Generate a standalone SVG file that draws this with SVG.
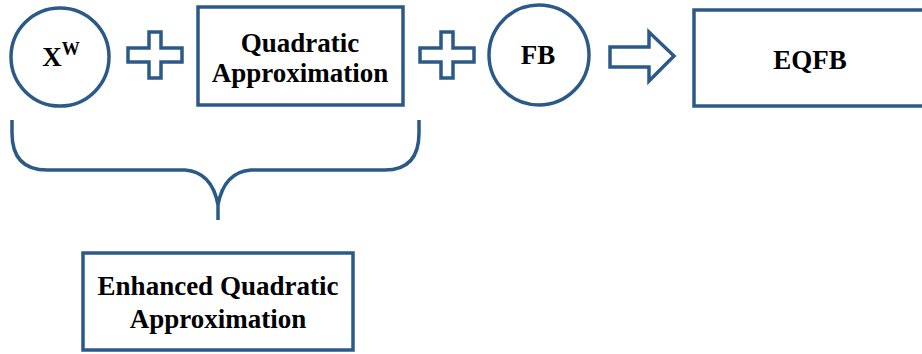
<svg xmlns="http://www.w3.org/2000/svg" width="922" height="354" viewBox="0 0 922 354">
<style>
.s{fill:#ffffff;stroke:#2C5A88;stroke-width:3.5}
.l{fill:none;stroke:#2C5A88;stroke-width:3.5;stroke-linejoin:miter}
.t{font-family:'Liberation Serif',serif;font-weight:700;font-size:27px;fill:#000;text-anchor:middle}
</style>
<rect width="922" height="354" fill="#ffffff"/>
<g id="xw"><circle class="s" cx="60" cy="57" r="49"/><text class="t" x="61" y="66" font-size="28"><tspan>X</tspan><tspan font-size="18" dy="-11">W</tspan></text></g>
<g id="plus1"><path class="s" d="M149,32 H161 V48 H182 V62 H161 V78 H149 V62 H128 V48 H149 Z"/></g>
<g id="quad"><rect class="s" x="198" y="7" width="205" height="98"/><text class="t" x="300" y="52">Quadratic</text><text class="t" x="300" y="82">Approximation</text></g>
<g id="plus2"><path class="s" d="M441,32 H453 V48 H474 V62 H453 V78 H441 V62 H420 V48 H441 Z"/></g>
<g id="fb"><circle class="s" cx="539" cy="55" r="50"/><text class="t" x="538" y="64">FB</text></g>
<g id="arrow"><path class="s" d="M610,47 H649 V32 L674,56 L649,81 V67 H610 Z"/></g>
<g id="eqfb"><rect class="s" x="694" y="10" width="240" height="96"/><text class="t" x="810" y="69">EQFB</text></g>
<g id="connectors"><path class="l" d="M12,120 V133 Q12,170 47,170 H185 Q212,172 218,205 V220 M218,205 Q224,172 251,170 H385 Q419,170 419,133 V120"/></g>
<g id="eqa"><rect class="s" x="83" y="253" width="270" height="97"/><text class="t" x="218" y="295">Enhanced Quadratic</text><text class="t" x="218" y="328">Approximation</text></g>
</svg>
